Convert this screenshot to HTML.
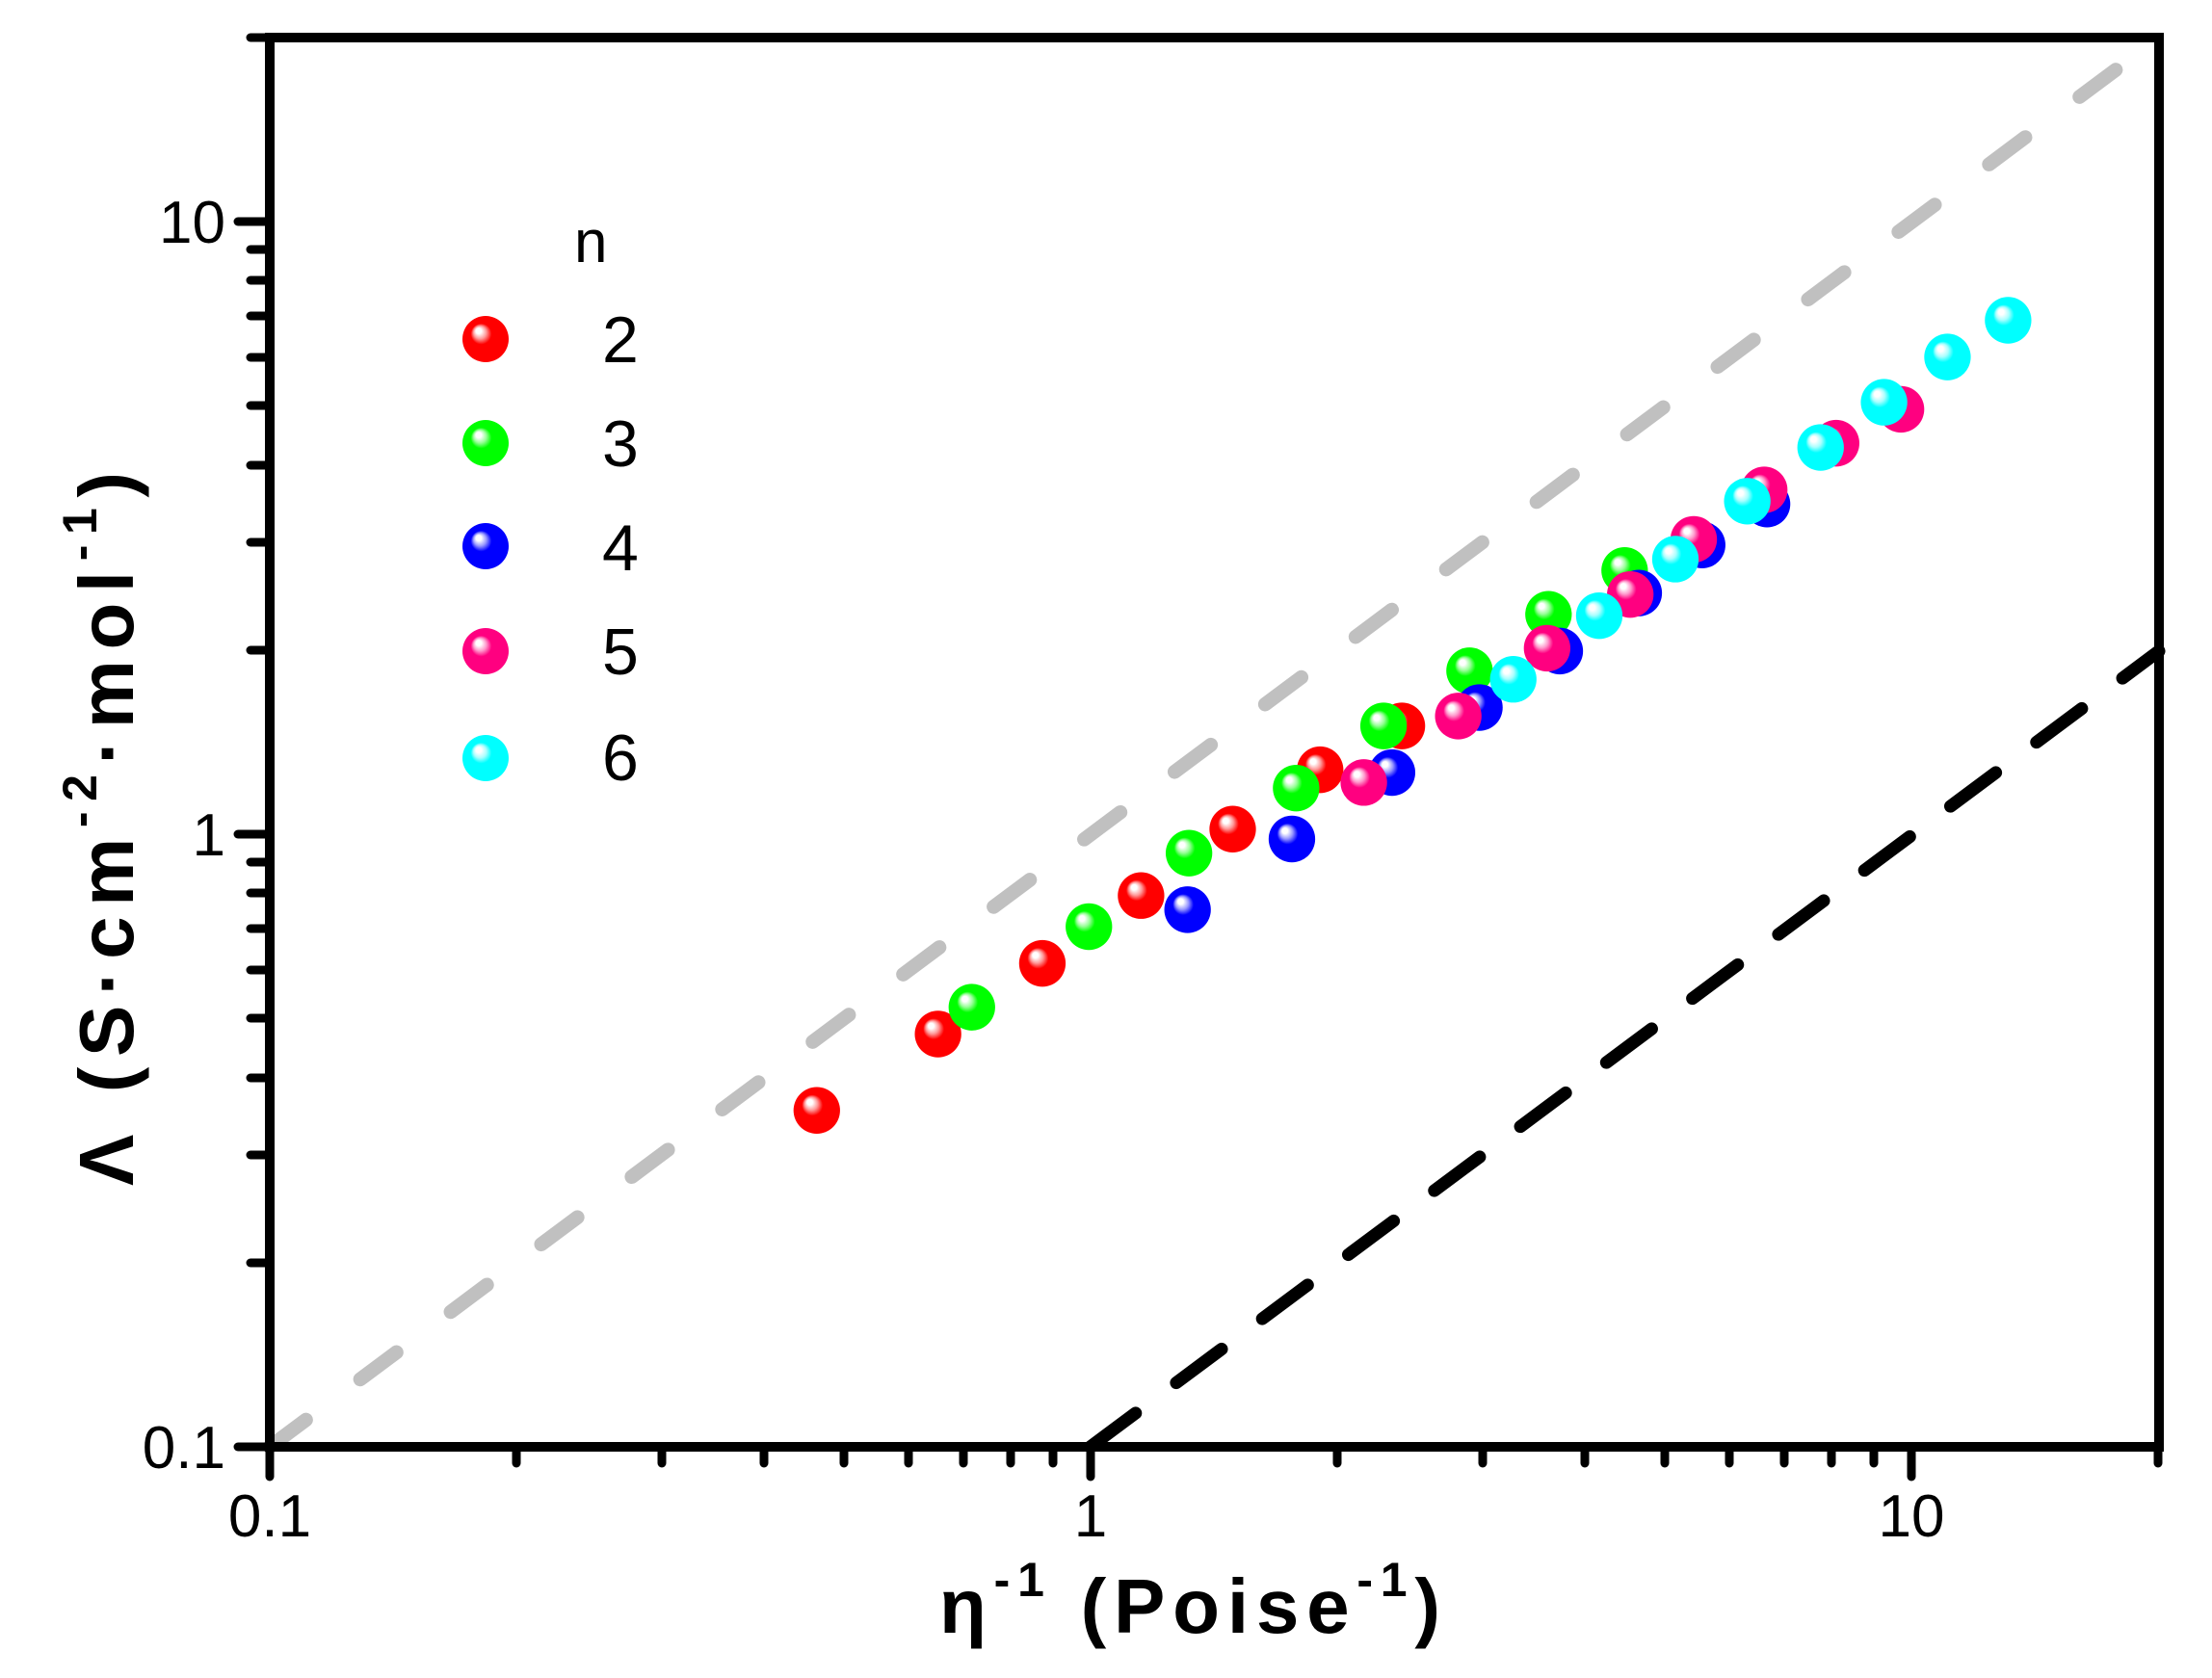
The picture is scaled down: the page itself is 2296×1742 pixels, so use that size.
<!DOCTYPE html>
<html><head><meta charset="utf-8"><style>html,body{margin:0;padding:0;background:#fff}svg{display:block}</style></head>
<body>
<svg width="2296" height="1742" viewBox="0 0 2296 1742" xmlns="http://www.w3.org/2000/svg" font-family="Liberation Sans, sans-serif">
<defs>
<radialGradient id="gr" cx="0.5" cy="0.5" r="0.5" fx="0.33" fy="0.3"><stop offset="0" stop-color="#fff"/><stop offset="0.12" stop-color="#fff"/><stop offset="0.28" stop-color="#ff9999"/><stop offset="0.45" stop-color="#ff0000"/><stop offset="1" stop-color="#ff0000"/></radialGradient>
<radialGradient id="gg" cx="0.5" cy="0.5" r="0.5" fx="0.33" fy="0.3"><stop offset="0" stop-color="#fff"/><stop offset="0.12" stop-color="#fff"/><stop offset="0.28" stop-color="#99ff99"/><stop offset="0.45" stop-color="#00ff00"/><stop offset="1" stop-color="#00ff00"/></radialGradient>
<radialGradient id="gb" cx="0.5" cy="0.5" r="0.5" fx="0.33" fy="0.3"><stop offset="0" stop-color="#fff"/><stop offset="0.12" stop-color="#fff"/><stop offset="0.28" stop-color="#9999ff"/><stop offset="0.45" stop-color="#0000ff"/><stop offset="1" stop-color="#0000ff"/></radialGradient>
<radialGradient id="gp" cx="0.5" cy="0.5" r="0.5" fx="0.33" fy="0.3"><stop offset="0" stop-color="#fff"/><stop offset="0.12" stop-color="#fff"/><stop offset="0.28" stop-color="#ff99cc"/><stop offset="0.45" stop-color="#ff0080"/><stop offset="1" stop-color="#ff0080"/></radialGradient>
<radialGradient id="gc" cx="0.5" cy="0.5" r="0.5" fx="0.33" fy="0.3"><stop offset="0" stop-color="#fff"/><stop offset="0.12" stop-color="#fff"/><stop offset="0.28" stop-color="#aaffff"/><stop offset="0.45" stop-color="#00ffff"/><stop offset="1" stop-color="#00ffff"/></radialGradient>
</defs>

<g transform="translate(280 39) scale(1.4634 1.4674) translate(-190 -28)">
<line x1="190" y1="1025" x2="1530" y2="28" stroke="#c0c0c0" stroke-width="10" stroke-linecap="round" stroke-dasharray="32 48"/>
<line x1="772" y1="1025" x2="1530" y2="462" stroke="#000" stroke-width="9" stroke-linecap="round" stroke-dasharray="40 36"/>
<g>
<circle cx="578" cy="787" r="16.5" fill="url(#gr)"/><circle cx="664" cy="733" r="16.5" fill="url(#gr)"/><circle cx="738" cy="683" r="16.5" fill="url(#gr)"/><circle cx="808" cy="635" r="16.5" fill="url(#gr)"/><circle cx="873" cy="588" r="16.5" fill="url(#gr)"/><circle cx="935" cy="546" r="16.5" fill="url(#gr)"/><circle cx="993" cy="515" r="16.5" fill="url(#gr)"/>
<circle cx="688" cy="714" r="16.5" fill="url(#gg)"/><circle cx="771" cy="657" r="16.5" fill="url(#gg)"/><circle cx="842" cy="605" r="16.5" fill="url(#gg)"/><circle cx="918" cy="559" r="16.5" fill="url(#gg)"/><circle cx="980" cy="515" r="16.5" fill="url(#gg)"/><circle cx="1041" cy="476" r="16.5" fill="url(#gg)"/><circle cx="1097" cy="436" r="16.5" fill="url(#gg)"/><circle cx="1151" cy="405" r="16.5" fill="url(#gg)"/>
<circle cx="841" cy="645" r="16.5" fill="url(#gb)"/><circle cx="915" cy="595" r="16.5" fill="url(#gb)"/><circle cx="986" cy="548" r="16.5" fill="url(#gb)"/><circle cx="1048" cy="502" r="16.5" fill="url(#gb)"/><circle cx="1105" cy="462" r="16.5" fill="url(#gb)"/><circle cx="1161" cy="421" r="16.5" fill="url(#gb)"/><circle cx="1206" cy="387" r="16.5" fill="url(#gb)"/><circle cx="1252" cy="358" r="16.5" fill="url(#gb)"/>
<circle cx="966" cy="555" r="16.5" fill="url(#gp)"/><circle cx="1033" cy="508" r="16.5" fill="url(#gp)"/><circle cx="1096" cy="460" r="16.5" fill="url(#gp)"/><circle cx="1155" cy="422" r="16.5" fill="url(#gp)"/><circle cx="1200" cy="383" r="16.5" fill="url(#gp)"/><circle cx="1250" cy="348" r="16.5" fill="url(#gp)"/><circle cx="1301" cy="315" r="16.5" fill="url(#gp)"/><circle cx="1347" cy="291" r="16.5" fill="url(#gp)"/>
<circle cx="1072" cy="482" r="16.5" fill="url(#gc)"/><circle cx="1133" cy="437" r="16.5" fill="url(#gc)"/><circle cx="1187" cy="397" r="16.5" fill="url(#gc)"/><circle cx="1238" cy="356" r="16.5" fill="url(#gc)"/><circle cx="1290" cy="318" r="16.5" fill="url(#gc)"/><circle cx="1335" cy="286" r="16.5" fill="url(#gc)"/><circle cx="1380" cy="254" r="16.5" fill="url(#gc)"/><circle cx="1423" cy="228" r="16.5" fill="url(#gc)"/>
</g>
</g>

<rect x="280" y="39" width="1961" height="1463" fill="none" stroke="#000" stroke-width="10"/>

<g stroke="#000" stroke-width="9" stroke-linecap="round">
<line x1="280" y1="1502" x2="280" y2="1533"/><line x1="1132" y1="1502" x2="1132" y2="1533"/><line x1="1984" y1="1502" x2="1984" y2="1533"/>
<line x1="536" y1="1502" x2="536" y2="1519"/><line x1="687" y1="1502" x2="687" y2="1519"/><line x1="793" y1="1502" x2="793" y2="1519"/><line x1="876" y1="1502" x2="876" y2="1519"/><line x1="943" y1="1502" x2="943" y2="1519"/><line x1="1000" y1="1502" x2="1000" y2="1519"/><line x1="1049" y1="1502" x2="1049" y2="1519"/><line x1="1093" y1="1502" x2="1093" y2="1519"/>
<line x1="1388" y1="1502" x2="1388" y2="1519"/><line x1="1539" y1="1502" x2="1539" y2="1519"/><line x1="1645" y1="1502" x2="1645" y2="1519"/><line x1="1728" y1="1502" x2="1728" y2="1519"/><line x1="1795" y1="1502" x2="1795" y2="1519"/><line x1="1852" y1="1502" x2="1852" y2="1519"/><line x1="1901" y1="1502" x2="1901" y2="1519"/><line x1="1945" y1="1502" x2="1945" y2="1519"/>
<line x1="2240" y1="1502" x2="2240" y2="1519"/>
<line x1="280" y1="1502" x2="247" y2="1502"/><line x1="280" y1="866" x2="247" y2="866"/><line x1="280" y1="230" x2="247" y2="230"/>
<line x1="280" y1="1311" x2="260" y2="1311"/><line x1="280" y1="1199" x2="260" y2="1199"/><line x1="280" y1="1119" x2="260" y2="1119"/><line x1="280" y1="1057" x2="260" y2="1057"/><line x1="280" y1="1007" x2="260" y2="1007"/><line x1="280" y1="964" x2="260" y2="964"/><line x1="280" y1="927" x2="260" y2="927"/><line x1="280" y1="895" x2="260" y2="895"/>
<line x1="280" y1="675" x2="260" y2="675"/><line x1="280" y1="563" x2="260" y2="563"/><line x1="280" y1="483" x2="260" y2="483"/><line x1="280" y1="421" x2="260" y2="421"/><line x1="280" y1="371" x2="260" y2="371"/><line x1="280" y1="328" x2="260" y2="328"/><line x1="280" y1="291" x2="260" y2="291"/><line x1="280" y1="259" x2="260" y2="259"/>
<line x1="280" y1="39" x2="260" y2="39"/>
</g>

<g font-size="62" fill="#000">
<text x="280" y="1595" text-anchor="middle">0.1</text>
<text x="1132" y="1595" text-anchor="middle">1</text>
<text x="1984" y="1595" text-anchor="middle">10</text>
<text x="234" y="1524" text-anchor="end">0.1</text>
<text x="234" y="888" text-anchor="end">1</text>
<text x="234" y="252" text-anchor="end">10</text>
</g>

<text x="975" y="1695" font-size="80" font-weight="bold" fill="#000" textLength="520" lengthAdjust="spacing">η<tspan font-size="50" dy="-38">-1</tspan><tspan dy="38"> (Poise</tspan><tspan font-size="50" dy="-38">-1</tspan><tspan dy="38">)</tspan></text>
<text transform="translate(138 1231) rotate(-90)" x="0" y="0" font-size="80" font-weight="bold" fill="#000" textLength="741" lengthAdjust="spacing">Λ (S·cm<tspan font-size="50" dy="-38">-2</tspan><tspan dy="38">·mol</tspan><tspan font-size="50" dy="-38">-1</tspan><tspan dy="38">)</tspan></text>

<text x="596" y="272" font-size="62" fill="#000">n</text>
<g>
<circle cx="504" cy="352" r="24" fill="url(#gr)"/>
<circle cx="504" cy="460" r="24" fill="url(#gg)"/>
<circle cx="504" cy="567" r="24" fill="url(#gb)"/>
<circle cx="504" cy="676" r="24" fill="url(#gp)"/>
<circle cx="504" cy="787" r="24" fill="url(#gc)"/>
</g>
<g font-size="68" fill="#000">
<text x="625" y="376">2</text>
<text x="625" y="484">3</text>
<text x="625" y="592">4</text>
<text x="625" y="700">5</text>
<text x="625" y="810">6</text>
</g>
</svg>
</body></html>
